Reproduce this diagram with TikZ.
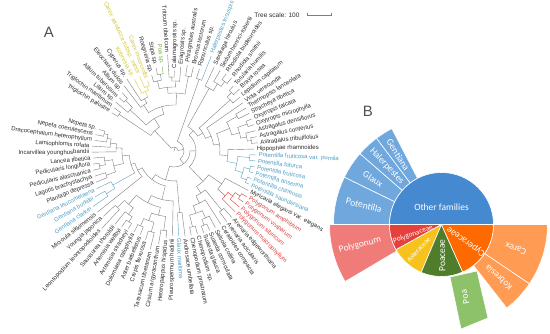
\documentclass[tikz,border=0pt]{standalone}
\usepackage{fontspec}
\setmainfont{Liberation Sans}
\newfontfamily\carlito{Carlito}
\definecolor{brk}{HTML}{7F7F7F}
\definecolor{txk}{HTML}{2B2B2B}
\definecolor{brb}{HTML}{5AA2C8}
\definecolor{txb}{HTML}{4F9CC4}
\definecolor{brr}{HTML}{D9403F}
\definecolor{txr}{HTML}{D9403F}
\definecolor{bry}{HTML}{D8CB3C}
\definecolor{txy}{HTML}{D2C53A}
\definecolor{brg}{HTML}{6DB33F}
\definecolor{txg}{HTML}{6DB33F}
\definecolor{panl}{HTML}{50505A}
\definecolor{cOther}{HTML}{4589D0}
\definecolor{cOtherL}{HTML}{70A8DE}
\definecolor{cPolF}{HTML}{E5403B}
\definecolor{cPolG}{HTML}{F07C79}
\definecolor{cAst}{HTML}{F8C21E}
\definecolor{cPoaF}{HTML}{4F7D2C}
\definecolor{cPoaG}{HTML}{8DC26A}
\definecolor{cCypF}{HTML}{FF6A00}
\definecolor{cCypG}{HTML}{FF9B52}
\newcommand\mySector[4]{\fill[#1,draw=white,line width=0.6pt] (0,0) -- (#2:#4) arc[start angle=#2,end angle=#3,radius=#4 pt] -- cycle;}
\newcommand\myRing[5]{\fill[#1,draw=white,line width=0.6pt] (#2:#4) arc[start angle=#2,end angle=#3,radius=#4 pt] -- (#3:#5) arc[start angle=#3,end angle=#2,radius=#5 pt] -- cycle;}
\begin{document}
\begin{tikzpicture}[x=1pt,y=1pt,
  br/.style={line width=0.4pt, line cap=round},
  lab/.style={font=\fontsize{6}{7}\selectfont, inner sep=0.6pt},
  blab/.style={font=\carlito\fontsize{9.5}{11}\selectfont, text=white, inner sep=0pt}]
\useasboundingbox (0,0) rectangle (550,333);

% ---------------- Panel A: circular tree ----------------
\node[font=\fontsize{15}{15}\selectfont, text=panl] (lblA) at (49,301) {A};
\node[font=\fontsize{6.5}{7}\selectfont, text=txk, anchor=east] (scl) at (303,318) {Tree scale: 100};
\coordinate (s1) at (307,318);
\coordinate (s2) at (331,318);
\draw[brk,line width=0.5pt] (s1) -- (s2);
\draw[brk,line width=0.5pt] ([yshift=-1.5pt]s1) -- ([yshift=1.5pt]s1);
\draw[brk,line width=0.5pt] ([yshift=-1.5pt]s2) -- ([yshift=1.5pt]s2);

\begin{scope}[shift={(174,182)}]
\foreach \na/\nb/\nr/\np/\ng in {
1/2/72/68/k, 1.5/3/68/64/k, 2.25/4/64/58/k, 3.125/5/58/52/k,
7/8/76/70/k, 6/7.5/70/62/k, 9/10/72/62/k, 6.75/9.5/62/52/k,
4.0625/8.125/52/45/k, 12/13/80/70/b, 11/12.5/70/45/b,
6.09375/11.75/45/41/k, 8.921875/14/41/36/k,
15/16/80/70/k, 18/19/84/78/k, 17/18.5/78/70/k, 15.5/17.75/70/58/k,
20/21/82/74/k, 22/23/84/74/k, 24/25/80/66/k, 20.5/22.5/74/66/k,
21.5/24.5/66/58/k, 16.625/23/58/50/k, 19.8125/26/50/36/k,
27/28/62/30/k, 11.4609/22.9063/36/30/k, 17.1836/27.5/30/16/k,
29/30/78/66/k, 31/32/80/74/k, 31.5/33/74/66/k, 29.5/32.25/66/58/k,
30.875/34/58/50/k, 35/36/76/50/k, 32.4375/35.5/50/42/k,
39/40/80/74/r, 38/39.5/74/68/r, 37/38.75/68/58/r,
37.875/41/58/42/k, 33.9688/39.4375/42/22/k,
42/43/78/72/b, 44/45/78/72/b, 42.5/44.5/72/64/b, 46/47/76/64/b,
43.5/46.5/64/54/b, 45/48/54/46/k,
49/50/78/74/k, 49.5/51/74/68/k, 52/53/78/68/k, 50.25/52.5/68/60/k,
54/55/72/60/k, 51.375/54.5/60/46/k, 46.5/52.9375/46/40/k,
49.7188/56/40/34/k, 58/59/82/76/k, 57/58.5/76/34/k,
52.8594/57.75/34/28/k, 60/61/86/80/k, 60.5/62/80/72/k,
61.25/63/72/28/k, 55.3047/62.125/28/22/k, 36.7031/58.7148/22/16/k,
22.3418/47.709/16/10/k, 64/65/76/10/k, 35.0254/64.5/10/4/k,
66/67/76/58/k, 69/70/74/70/k, 68/69.5/70/64/k, 71/72/78/72/k,
71.5/73/72/64/k, 68.75/72.25/64/58/k, 66.5/70.5/58/46/k,
74/75/70/66/y, 74.5/76/66/60/y, 75.25/77/60/55/k, 76.125/78/55/46/k,
68.5/77.0625/46/38/k, 79/80/70/60/k, 79.5/81/60/38/k,
72.7813/80.25/38/28/k, 82/83/66/28/k, 76.5156/82.5/28/4/k,
49.7627/79.5078/4/0/k}{
  \pgfmathsetmacro\angA{164+4.2*(\na-1)}
  \pgfmathsetmacro\angB{164+4.2*(\nb-1)}
  \pgfmathsetmacro\angM{(\angA+\angB)/2}
  \draw[br,draw=br\ng] (\angA:\nr) arc[start angle=\angA,end angle=\angB,radius=\nr pt];
  \draw[br,draw=br\ng] (\angM:\np) -- (\angM:\nr);
}
\foreach \i/\rl/\rp/\ng/\nm in {
1/80/72/k/Nepeta sp.,
2/82/72/k/Nepeta coerulescens,
3/82/68/k/Dracocephalum heterophyllum,
4/84/64/k/Lamiophlomis rotata,
5/84/58/k/Incarvillea younghusbandii,
6/83/70/k/Lancea tibetica,
7/84/76/k/Pedicularis longiflora,
8/85/76/k/Pedicularis alaschanica,
9/85/72/k/Lagotis brachystachya,
10/86/72/k/Plantago depressa,
11/88/70/b/Gentiana leucomelaena,
12/93/80/b/Gentiana burkillii,
13/100/80/b/Gentiana clarkei,
14/100/41/k/Microula sikkimensis,
15/98/80/k/Youngia japonica,
16/108/80/k/Leontopodium leontopodioides,
17/96/78/k/Saussurea thoroldii,
18/94/84/k/Artemisia wellbyi,
19/92/84/k/Artemisia stracheyi,
20/92/82/k/Dolomiaea calophylla,
21/92/82/k/Aster barbellatus,
22/95/84/k/Crepis flexuosa,
23/103/84/k/Taraxacum tibetanum,
24/96/80/k/Cirsium argyracanthum,
25/89/80/k/Heteropappus hispidus,
26/87/50/k/Pleurospermum hedinii,
27/87/62/b/Glaux maritima,
28/88/62/k/Androsace umbellata,
29/88/78/k/Chenopodium prostratum,
30/88/78/k/Chenopodium sp.,
31/89/80/k/Suaeda glauca,
32/89/80/k/Suaeda corniculata,
33/89/74/k/Salsola collina,
34/89/58/k/Ceratoides compacta,
35/90/76/k/Arenaria acicularis,
36/90/76/k/Arenaria edgeworthiana,
37/88/68/r/Polygonum macrophyllum,
38/88/74/r/Polygonum sibiricum,
39/88/80/r/Polygonum viviparum,
40/88/80/r/Polygonum amphibium,
41/86/58/k/Myricaria elegans var. elegans,
42/84/78/b/Potentilla saundersiana,
43/84/78/b/Potentilla chinensis,
44/84/78/b/Potentilla anserina,
45/84/78/b/Potentilla fruticosa,
46/84/76/b/Potentilla bifurca,
47/84/76/b/Potentilla fruticosa var. pumila,
48/82/54/k/Hippophae rhamnoides,
49/86/78/k/Astragalus tribulifolius,
50/86/78/k/Astragalus confertus,
51/86/74/k/Astragalus densiflorus,
52/86/78/k/Oxytropis microphylla,
53/86/78/k/Oxytropis falcata,
54/86/72/k/Stracheya tibetica,
55/86/72/k/Thermopsis lanceolata,
56/86/40/k/Viola verecunda,
57/87/76/k/Lepidium capitatum,
58/92/82/k/Braya rosea,
59/90/82/k/Torularia humilis,
60/95/86/k/Rhodiola smithii,
61/95/86/k/Rhodiola bupleuroides,
62/95/80/k/Sedum henrici-robertii,
63/95/72/k/Saxifraga hirculus,
64/104/76/b/Halerpestes tricuspis,
65/88/76/k/Ranunculus sp.,
66/88/76/k/Bromus tectorum,
67/89/76/k/Phragmites australis,
68/86/70/k/Eragrostis sp.,
69/82/74/k/Calamagrostis sp.,
70/98/74/k/Triticum tibeticum,
71/87/78/g/Poa sp.,
72/87/78/k/Stipa sp.,
73/81/72/k/Roegneria sp.,
74/77/70/y/Carex moorcroftii,
75/84/70/y/Carex atrofusca subsp. minor,
76/84/66/y/Kobresia sp.,
77/88/60/k/Cyperus sp.,
78/84/55/k/Eleocharis dulcis,
79/80/70/k/Allium sp.,
80/78/70/k/Allium tuberosum,
81/78/60/k/Lilium sp.,
82/76/66/k/Triglochin maritimum,
83/75/66/k/Triglochin palustre}{
  \pgfmathsetmacro\ang{164+4.2*(\i-1)}
  \pgfmathsetmacro\rtip{\rl-2}
  \draw[br,draw=br\ng] (\ang:\rp) -- (\ang:\rtip);
  \pgfmathtruncatemacro\side{cos(\ang)>=0 ? 1 : 0}
  \ifnum\side=1
    \node[lab,text=tx\ng,anchor=west,rotate=\ang] (L\i) at (\ang:\rl) {\nm};
  \else
    \node[lab,text=tx\ng,anchor=east,rotate=\ang+180] (L\i) at (\ang:\rl) {\nm};
  \fi
}
\end{scope}

% ---------------- Panel B: sunburst ----------------
\node[font=\fontsize{15}{15}\selectfont, text=panl] (lblB) at (368,222) {B};
\begin{scope}[shift={(441.5,108.5)}]
% outer ring
\myRing{cOtherL}{154}{180}{52}{108}
\myRing{cOtherL}{139}{154}{52}{108}
\myRing{cOtherL}{127}{139}{52}{108}
\myRing{cOtherL}{117.4}{127}{52}{108}
\myRing{cPolG}{180}{210.6}{52}{112}
\myRing{cCypG}{326}{360}{52}{106}
\myRing{cCypG}{308}{326}{52}{106}
\fill[cPoaG,draw=white,line width=0.6pt] (8.5,-52.5) -- (35.5,-46.5) -- (46.5,-93.5) -- (19.5,-104.5) -- cycle;
% inner ring
\mySector{cOther}{0}{180}{52}
\mySector{cPolF}{180}{209}{52}
\mySector{cAst}{209}{247}{52}
\mySector{cPoaF}{247}{294}{52}
\mySector{cCypF}{294}{360}{52}
% labels
\node[blab] (bOther) at (0,17) {Other families};
\node[blab,rotate=-14] (bPot) at (166:80) {Potentilla};
\node[blab,rotate=-33.5] (bGla) at (146.5:82) {Glaux};
\node[blab,rotate=-47] (bHal) at (133:80) {Halerpestes};
\node[blab,rotate=-58] (bGen) at (122:82) {Gentiana};
\node[blab,rotate=14] (bPolG) at (194:84) {Polygonum};
\node[blab,rotate=20,font=\carlito\fontsize{7.5}{9}\selectfont] (bPolF) at (199:30) {Polygonaceae};
\node[blab,rotate=48,font=\carlito\fontsize{7}{8}\selectfont] (bAst) at (228:34) {Asteraceae};
\node[blab,rotate=91] (bPoaF) at (271:31) {Poaceae};
\node[blab,rotate=145] (bCypF) at (325:30) {Cyperaceae};
\node[blab,rotate=162] (bCar) at (342:78) {Carex};
\node[blab,rotate=137] (bKob) at (317:78) {Kobresia};
\node[blab,rotate=103] (bPoa) at (288:76) {Poa};
\end{scope}
\end{tikzpicture}
\end{document}
